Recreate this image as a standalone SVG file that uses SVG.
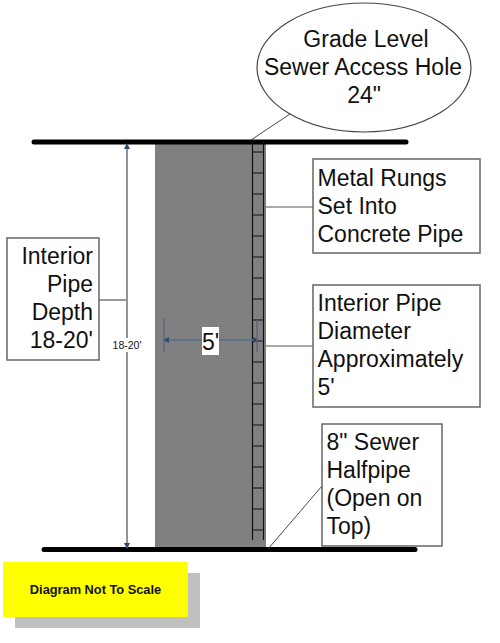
<svg xmlns="http://www.w3.org/2000/svg" width="500" height="643" viewBox="0 0 500 643">
<style>
text{font-family:"Liberation Sans",Arial,sans-serif;fill:#111}
.t{font-size:23px}
.box{fill:#fff;stroke:#666;stroke-width:1.5}
.lead{stroke:#555;stroke-width:1.2;fill:none}
.thin{stroke:#333;stroke-width:0.9;fill:none}
.bar{stroke:#000;stroke-width:5;stroke-linecap:round}
.rail{stroke:#111;stroke-width:1.2}
.dim{stroke:#8f95a0;stroke-width:2;fill:none}
</style>
<defs>
<marker id="ah" markerWidth="6" markerHeight="6" refX="5" refY="3" orient="auto-start-reverse" markerUnits="userSpaceOnUse"><path d="M0 0L6 3L0 6z" fill="#334a6e"/></marker>
</defs>
<rect width="500" height="643" fill="#fff"/>
<g id="pipe">
<rect x="155" y="142" width="111" height="407" fill="#808080"/>
</g>
<g id="grade-lines">
<line class="bar" x1="34" y1="142" x2="406" y2="142"/>
<line class="bar" x1="44" y1="549.500" x2="415" y2="549.500"/>
</g>
<g id="rungs">
<path class="rail" d="M252.500 142V540M263.500 142V540"/>
<path class="rail" d="M252.500 152H263.500M252.500 173H263.500M252.500 194H263.500M252.500 215H263.500M252.500 236H263.500M252.500 257H263.500M252.500 278H263.500M252.500 299H263.500M252.500 320H263.500M252.500 341H263.500M252.500 362H263.500M252.500 383H263.500M252.500 404H263.500M252.500 425H263.500M252.500 446H263.500M252.500 467H263.500M252.500 488H263.500M252.500 509H263.500M252.500 530H263.500"/>
</g>
<g id="connectors">
<line class="thin" x1="251" y1="140" x2="290" y2="114"/>
<line class="lead" x1="266" y1="207" x2="313" y2="207"/>
<line class="lead" x1="266" y1="346" x2="313" y2="346"/>
<line class="thin" x1="268" y1="549" x2="322" y2="486"/>
<line class="lead" x1="99" y1="300" x2="127" y2="300"/>
<line class="dim" x1="127" y1="144" x2="127" y2="548" marker-start="url(#ah)" marker-end="url(#ah)"/>
<line x1="164" y1="340" x2="258" y2="340" stroke="#5f7288" stroke-width="2" marker-start="url(#ah)" marker-end="url(#ah)"/>
<path d="M164 318V352M257 320V352" stroke="#56657c" stroke-width="1.300" fill="none"/>
</g>
<g id="label-depth-dim">
<rect x="113" y="338" width="28" height="14" fill="#fff"/>
<text x="127" y="349" font-size="10.500" text-anchor="middle">18-20'</text>
</g>
<g id="label-5ft">
<rect x="202" y="327" width="17" height="28" fill="#fff"/>
<text x="210.500" y="350" class="t" text-anchor="middle">5'</text>
</g>
<g id="access-hole">
<ellipse cx="364" cy="67.500" rx="107" ry="64.500" fill="#fff" stroke="#444" stroke-width="1.200"/>
<text class="t" text-anchor="middle" x="366" y="47">Grade Level</text>
<text class="t" text-anchor="middle" x="363" y="75">Sewer Access Hole</text>
<text class="t" text-anchor="middle" x="364" y="103">24"</text>
</g>
<g id="metal-rungs">
<rect class="box" x="313" y="159" width="167" height="94"/>
<text class="t" x="317.500" y="186">Metal Rungs</text>
<text class="t" x="317.500" y="214">Set Into</text>
<text class="t" x="317.500" y="242">Concrete Pipe</text>
</g>
<g id="pipe-diameter">
<rect class="box" x="313" y="285" width="167" height="122"/>
<text class="t" x="317.500" y="311">Interior Pipe</text>
<text class="t" x="317.500" y="339">Diameter</text>
<text class="t" x="317.500" y="367">Approximately</text>
<text class="t" x="317.500" y="395">5'</text>
</g>
<g id="halfpipe">
<rect class="box" x="322" y="424" width="120" height="122"/>
<text class="t" x="326.500" y="450">8" Sewer</text>
<text class="t" x="326.500" y="478">Halfpipe</text>
<text class="t" x="326.500" y="506">(Open on</text>
<text class="t" x="326.500" y="534">Top)</text>
</g>
<g id="pipe-depth">
<rect class="box" x="7" y="238" width="92" height="122"/>
<text class="t" text-anchor="end" x="93" y="264">Interior</text>
<text class="t" text-anchor="end" x="93" y="292">Pipe</text>
<text class="t" text-anchor="end" x="93" y="320">Depth</text>
<text class="t" text-anchor="end" x="93" y="348">18-20'</text>
</g>
<g id="scale-note">
<rect x="15" y="573" width="185" height="55" fill="#c0c0c0"/>
<rect x="3" y="562" width="185" height="55" fill="#ffff00"/>
<text x="95.500" y="593.500" font-size="12.800" font-weight="bold" text-anchor="middle">Diagram Not To Scale</text>
</g>
</svg>
